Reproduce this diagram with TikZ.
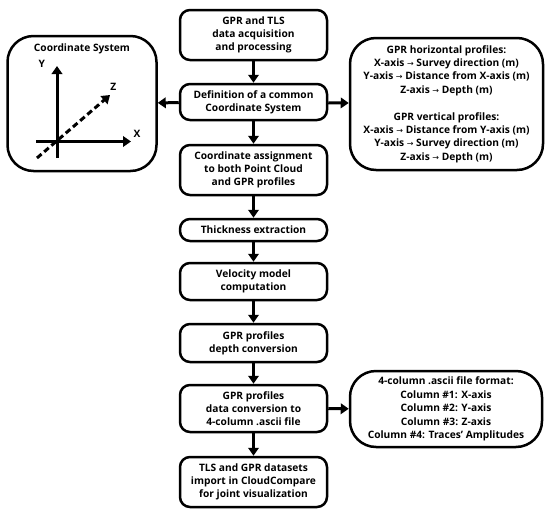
\documentclass[tikz,border=0pt]{standalone}
\usepackage{fontspec}
\setmainfont{Open Sans}
\newfontfamily\arrowfont{DejaVu Sans}
\usetikzlibrary{arrows.meta}
\newcommand{\ra}{{\arrowfont\mdseries\fontsize{8}{13}\selectfont →}}
\begin{document}
\begin{tikzpicture}[x=1pt,y=-1pt,
 box/.style={draw,line width=2.5pt,rounded corners=10pt,align=center,
   font=\bfseries\fontsize{10.2}{13.2}\selectfont,inner sep=0pt,minimum width=147pt},
 bigbox/.style={draw,line width=2.5pt,rounded corners=26pt,align=center,
   font=\bfseries\fontsize{10.2}{13.4}\selectfont,inner sep=0pt},
 arr/.style={line width=3pt,-{Triangle[length=8pt,width=10.5pt]}},
 lbl/.style={font=\bfseries\fontsize{10.2}{12}\selectfont,inner sep=0pt}]
\useasboundingbox (0,0) rectangle (550,520);
% central column
\node[box,minimum height=50pt] (b1) at (253.5,35) {GPR and TLS\\data acquisition\\and processing};
\node[box,minimum height=36pt] (b2) at (253.5,102) {Definition of a common\\Coordinate System};
\node[box,minimum height=50pt] (b3) at (253.5,170) {Coordinate assignment\\to both Point Cloud\\and GPR profiles};
\node[box,minimum height=22pt] (b4) at (253.5,230) {Thickness extraction};
\node[box,minimum height=37pt] (b5) at (253.5,281.5) {Velocity model\\computation};
\node[box,minimum height=38pt] (b6) at (253.5,343) {GPR profiles\\depth conversion};
\node[box,minimum height=47pt] (b7) at (253.5,408.5) {GPR profiles\\data conversion to\\4-column .ascii file};
\node[box,minimum height=50pt] (b8) at (253.5,482) {TLS and GPR datasets\\import in CloudCompare\\for joint visualization};
% side boxes
\node[bigbox,minimum width=149pt,minimum height=135pt] (cs) at (82,103.5) {};
\node[bigbox,minimum width=193pt,minimum height=132pt] (rt) at (446.5,104)
 {GPR horizontal profiles:\\X-axis \ra{} Survey direction (m)\\Y-axis \ra{} Distance from X-axis (m)\\Z-axis \ra{} Depth (m)\\[13.4pt]
  GPR vertical profiles:\\X-axis \ra{} Distance from Y-axis (m)\\Y-axis \ra{} Survey direction (m)\\Z-axis \ra{} Depth (m)};
\node[bigbox,minimum width=192pt,minimum height=76pt] (rb) at (446,409)
 {4-column .ascii file format:\\Column \#1: X-axis\\Column \#2: Y-axis\\Column \#3: Z-axis\\Column \#4: Traces' Amplitudes};
% coordinate system content
\node[lbl,anchor=base] (cst) at (82,51.7) {Coordinate System};
\node[lbl] (ly) at (41.7,64.3) {Y};
\node[lbl] (lz) at (113.3,86.7) {Z};
\node[lbl] (lx) at (137,134) {X};
\coordinate (y0) at (57,158);
\coordinate (y1) at (57,66);
\coordinate (x0) at (36,141.5);
\coordinate (x1) at (131,141.5);
\coordinate (z0) at (37,158);
\coordinate (z1) at (110,95);
\draw[arr] (y0) -- (y1);
\draw[arr] (x0) -- (x1);
\draw[line width=3pt,dash pattern=on 6pt off 3.5pt,-{Triangle[length=8pt,width=10.5pt]}] (z0) -- (z1);
% connectors
\draw[arr] (b1) -- (b2);
\draw[arr] (b2) -- (b3);
\draw[arr] (b3) -- (b4);
\draw[arr] (b4) -- (b5);
\draw[arr] (b5) -- (b6);
\draw[arr] (b6) -- (b7);
\draw[arr] (b7) -- (b8);
\draw[arr] (b2) -- (cs);
\draw[arr] (b2) -- (rt);
\draw[arr] (b7) -- (rb);
\end{tikzpicture}
\end{document}
